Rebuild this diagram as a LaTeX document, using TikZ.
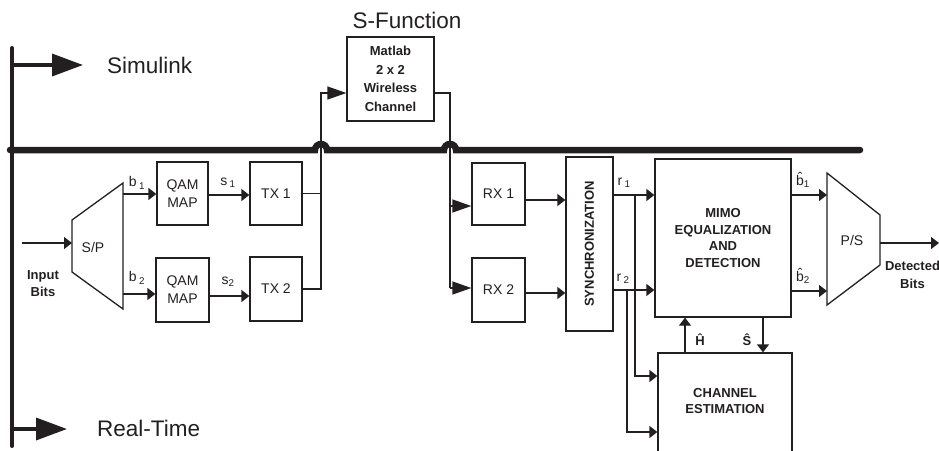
\documentclass[tikz,border=0pt]{standalone}
\usepackage{fontspec}
\usepackage{graphicx}
\setmainfont{Liberation Sans}
\usetikzlibrary{arrows.meta, positioning, calc}

\definecolor{ink}{RGB}{35,31,32}
\newcommand{\bigfont}{\fontsize{22.5}{26}\selectfont}
\newcommand{\blkfont}{\fontsize{14}{18}\selectfont}
\newcommand{\boldfont}{\fontsize{13}{16.5}\selectfont\bfseries}

\tikzset{
  blk/.style={draw=ink, line width=1.3pt, inner sep=0pt, align=center, font=\blkfont, text=ink},
  bblk/.style={blk, font=\boldfont},
  sig/.style={draw=ink, line width=1.3pt},
  arr/.style={sig, -{Triangle[length=8pt,width=12pt]}},
  bigarr/.style={sig, -{Triangle[length=19pt,width=13pt]}},
  domarr/.style={draw=ink, line width=3.5pt, -{Triangle[length=31pt,width=22pt]}},
  bus/.style={draw=ink, line width=6.5pt},
  lbl/.style={font=\blkfont, text=ink, inner sep=0pt},
  blbl/.style={font=\boldfont, text=ink, inner sep=0pt, align=center},
}

\begin{document}
\begin{tikzpicture}[x=1pt, y=-1pt]
\useasboundingbox (0,0) rectangle (939,450);
\clip (0,0) rectangle (939,450);

% --- domains: Simulink above, Real-Time below ---
\coordinate (axtop) at (12,48);
\coordinate (axbot) at (12,446);
\draw[ink, line width=4pt, line cap=round] (axtop) -- (axbot);
\coordinate (simfrom) at (12,65);
\coordinate (simto) at (83,65);
\draw[domarr] (simfrom) -- (simto);
\node[font=\bigfont, text=ink, inner sep=0pt, anchor=west] (simlbl) at (107,65) {Simulink};
\coordinate (rtfrom) at (12,429);
\coordinate (rtto) at (67,429);
\draw[domarr] (rtfrom) -- (rtto);
\node[font=\bigfont, text=ink, inner sep=0pt, anchor=west] (rtlbl) at (97,428) {Real-Time};

% --- boundary bus with hops ---
\draw[bus, line cap=round] (10,150) -- (315,150) arc[start angle=180, end angle=360, radius=6]
  -- (444,150) arc[start angle=180, end angle=360, radius=6] -- (860,150);

% --- S-Function channel ---
\node[font=\bigfont, text=ink, inner sep=0pt] (sfun) at (407,20) {S-Function};
\node[bblk, font=\fontsize{13}{18.7}\selectfont\bfseries, minimum width=87, minimum height=84] (chan) at (390.5,79) {Matlab\\2 x 2\\Wireless\\Channel};

% --- transmitter side ---
\draw[sig] (72,220) -- (123,183) -- (123,309) -- (72,272) -- cycle;
\node[lbl] (sp) at (93,247) {S/P};
\coordinate (sp-in) at (72,243);
\coordinate (sp-o1) at (123,194);
\coordinate (sp-o2) at (123,294);
\coordinate (inbits) at (22,243);
\node[blbl] (inlbl) at (43,283.5) {Input\\Bits};

\node[blk, minimum width=51, minimum height=63] (qam1) at (182.5,193.5) {QAM\\MAP};
\node[blk, minimum width=53, minimum height=64] (qam2) at (182.5,290) {QAM\\MAP};
\node[blk, minimum width=52, minimum height=63] (tx1) at (276,193.5) {TX 1};
\node[blk, minimum width=52, minimum height=64] (tx2) at (276,289) {TX 2};

\node[lbl] (b1) at (137,183) {b\,\textsubscript{1}};
\node[lbl] (b2) at (137,278) {b\,\textsubscript{2}};
\node[lbl] (s1) at (228,183) {s\,\textsubscript{1}};
\node[lbl] (s2) at (228,282) {s\textsubscript{2}};

\draw[arr] (inbits) -- (sp-in);
\draw[arr] (sp-o1) -- (qam1.west |- sp-o1);
\draw[arr] (sp-o2) -- (qam2.west |- sp-o2);
\draw[arr] (qam1.east |- 0,195) -- (tx1.west |- 0,195);
\draw[arr] (qam2.east |- 0,296) -- (tx2.west |- 0,296);

\coordinate (txbus) at (321,93);
\draw[sig] (tx1.east) -- (tx1.east -| txbus);
\draw[bigarr] (tx2.east) -| (txbus) -- (chan.west |- txbus);

% --- receiver side ---
\node[blk, minimum width=53, minimum height=62] (rx1) at (498.5,194) {RX 1};
\node[blk, minimum width=53, minimum height=64] (rx2) at (498.5,290) {RX 2};
\node[bblk, minimum width=47, minimum height=174] (sync) at (589.5,244) {\rotatebox{90}{SYNCHRONIZATION}};
\node[bblk, minimum width=136, minimum height=158] (mimo) at (723,238) {MIMO\\EQUALIZATION\\AND\\DETECTION};
\node[blk, minimum width=134, minimum height=110] (chest) at (725,408) {};
\node[blbl] (chestlbl) at (725,401) {CHANNEL\\ESTIMATION};

\coordinate (rxbus) at (450,93);
\draw[sig] (chan.east |- rxbus) -- (rxbus) -- (rxbus |- 0,288);
\draw[bigarr] (rxbus |- 0,206) -- (rx1.west |- 0,206);
\draw[bigarr] (rxbus |- 0,288) -- (rx2.west |- 0,288);
\draw[arr] (rx1.east |- 0,200) -- (sync.west |- 0,200);
\draw[arr] (rx2.east |- 0,293) -- (sync.west |- 0,293);

\node[lbl] (r1) at (624,183) {r\,\textsubscript{1}};
\node[lbl] (r2) at (623,279) {r\,\textsubscript{2}};
\draw[arr] (sync.east |- 0,195) -- (mimo.west |- 0,195);
\draw[arr] (sync.east |- 0,290) -- (mimo.west |- 0,290);
\coordinate (r1tap) at (635,195);
\coordinate (r2tap) at (627,290);
\draw[arr] (r1tap) |- (chest.west |- 0,376);
\draw[arr] (r2tap) |- (chest.west |- 0,432);

\draw[arr] (chest.north -| 685,0) -- (mimo.south -| 685,0);
\draw[arr] (mimo.south -| 763,0) -- (chest.north -| 763,0);
\node[blbl] (hhat) at (700,340) {\^{H}};
\node[blbl] (shat) at (747,340) {\^{S}};

% --- parallel to serial ---
\draw[sig] (827,173) -- (880,215) -- (880,265) -- (827,305) -- cycle;
\node[lbl] (ps) at (852,240) {P/S};
\coordinate (ps-i1) at (827,195);
\coordinate (ps-i2) at (827,291);
\coordinate (ps-out) at (880,243);
\coordinate (detbits) at (939,243);
\node[lbl] (bh1) at (803,180) {\^{b}\textsubscript{1}};
\node[lbl] (bh2) at (803,276) {\^{b}\textsubscript{2}};
\draw[arr] (mimo.east |- ps-i1) -- (ps-i1);
\draw[arr] (mimo.east |- ps-i2) -- (ps-i2);
\draw[arr] (ps-out) -- (detbits);
\node[blbl, font=\fontsize{13}{18}\selectfont\bfseries] (detlbl) at (912.5,275) {Detected\\Bits};

\end{tikzpicture}
\end{document}
